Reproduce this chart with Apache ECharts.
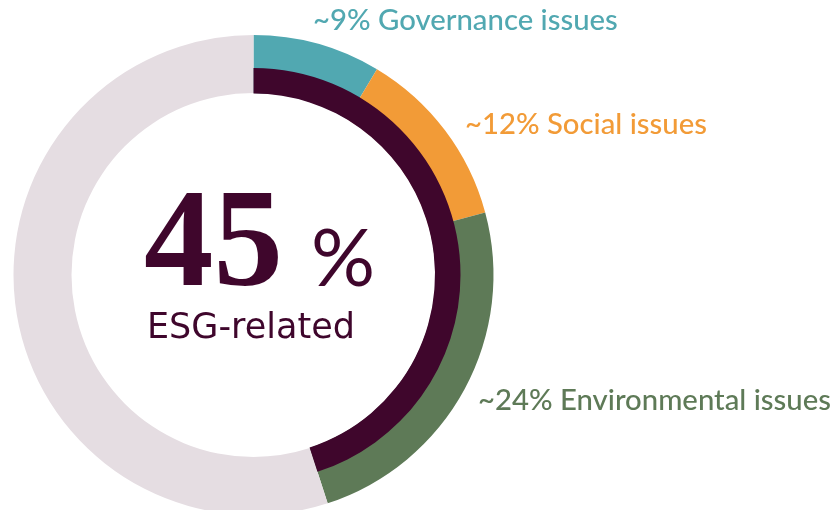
<!DOCTYPE html>
<html>
<head>
<meta charset="utf-8">
<script src="https://cdn.jsdelivr.net/npm/echarts@6/dist/echarts.min.js"></script>
<style>
  html, body { margin: 0; padding: 0; background: #fff; }
</style>
</head>
<body>
<div id="donut" style="width: 835px; height: 510px;"></div>
<script>
// data
var categories = ["Governance issues", "Social issues", "Environmental issues"];
var shares = [8.6, 12.2, 24.2];
var labelPct = ["~9%", "~12%", "~24%"];
var esgTotal = 45;
var colours = ["#51a8b1", "#f29b37", "#5e7a57"];

var chart = echarts.init(document.getElementById("donut"));

var outerData = categories.map(function (c, i) {
  return { name: c, value: shares[i], itemStyle: { color: colours[i] } };
});
outerData.push({ name: "Other", value: 100 - esgTotal, itemStyle: { color: "#e5dde2" } });

var labelPos = [[313, 6], [465, 110], [478, 386]];
var labels = categories.map(function (c, i) {
  return {
    type: "text",
    left: labelPos[i][0],
    top: labelPos[i][1],
    style: {
      text: labelPct[i] + " " + c,
      fill: colours[i],
      font: "500 29.3px Lato"
    }
  };
});

chart.setOption({
  animation: false,
  series: [
    {
      // full band, coloured part + grey rest
      type: "pie",
      center: [253.5, 275],
      radius: [182, 240],
      startAngle: 90,
      clockwise: true,
      silent: true,
      label: { show: false },
      labelLine: { show: false },
      data: outerData
    },
    {
      // dark ESG band laid over the inner part
      type: "pie",
      center: [253.5, 275],
      radius: [181.5, 207],
      startAngle: 90,
      clockwise: true,
      silent: true,
      label: { show: false },
      labelLine: { show: false },
      data: [
        { name: "ESG-related", value: esgTotal, itemStyle: { color: "#3f062c" } },
        { name: "Other", value: 100 - esgTotal, itemStyle: { color: "rgba(0,0,0,0)" } }
      ]
    }
  ],
  graphic: labels.concat([
    {
      type: "text",
      left: 144,
      top: 180,
      style: {
        text: String(esgTotal),
        fill: "#3f062c",
        font: "bold 139px 'Liberation Serif'"
      }
    },
    {
      type: "text",
      left: 311,
      top: 220,
      style: { text: "%", fill: "#3f062c", font: "400 80px Lato" }
    },
    {
      type: "text",
      left: 147,
      top: 311,
      style: { text: "ESG-related", fill: "#3f062c", font: "400 35px 'DejaVu Sans'" }
    }
  ])
});
</script>
</body>
</html>
